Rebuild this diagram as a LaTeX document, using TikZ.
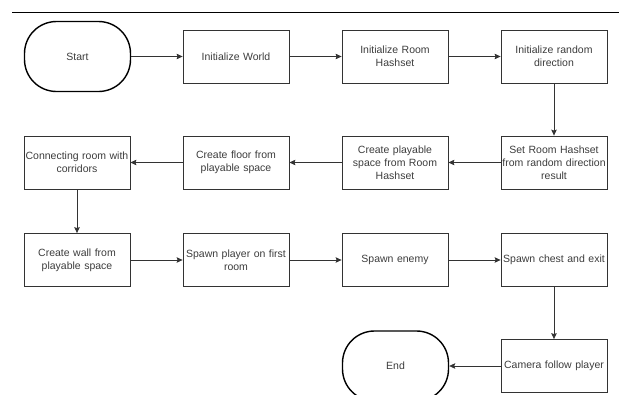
\documentclass[tikz,border=0pt]{standalone}
\usepackage{fontspec}
\setmainfont{Liberation Sans}
\usepackage{tikz}
\usetikzlibrary{positioning, arrows, arrows.meta}
\definecolor{linegray}{HTML}{333333}
\definecolor{textgray}{HTML}{3C3C3C}

\begin{document}
\begin{tikzpicture}[x=1pt, y=-1pt,
        >={Stealth[length=6pt, width=5.5pt, inset=1pt]},
        every node/.style={font=\fontsize{10.5}{13}\selectfont, text=textgray, align=center},
        stepbox/.style={draw=linegray, line width=0.8pt, minimum width=106pt, minimum height=53pt, inner sep=0pt, text width=104pt},
        terminal/.style={draw=black, line width=1.4pt, rounded corners=32pt, minimum width=106pt, minimum height=70pt, inner sep=0pt}]
            \useasboundingbox (0, 0) rectangle (619, 394);
            \draw [line width=0.9pt] (12, 12) -- (619, 12);

            \node [terminal] (Start) at (77.5, 56.5) {Start};
            \node [stepbox] (World) at (236, 56.5) {Initialize World};
            \node [stepbox] (Hashset) at (395, 56.5) {Initialize Room\\Hashset};
            \node [stepbox] (Dir) at (554, 56.5) {Initialize random\\direction};

            \node [stepbox] (SetHash) at (554, 162.5) {Set Room Hashset\\from random direction\\result};
            \node [stepbox] (Space) at (395, 162.5) {Create playable\\space from Room\\Hashset};
            \node [stepbox] (Floor) at (236, 162.5) {Create floor from\\playable space};
            \node [stepbox] (Corr) at (77, 162.5) {Connecting room with\\corridors};

            \node [stepbox] (Wall) at (77, 260) {Create wall from\\playable space};
            \node [stepbox] (Player) at (236, 260) {Spawn player on first\\room};
            \node [stepbox] (Enemy) at (395, 260) {Spawn enemy};
            \node [stepbox] (Chest) at (554, 260) {Spawn chest and exit};

            \node [stepbox] (Cam) at (554, 366) {Camera follow player};
            \node [terminal] (End) at (395.5, 366) {End};

            \draw [->, linegray, line width=0.8pt] (Start) -- (World);
            \draw [->, linegray, line width=0.8pt] (World) -- (Hashset);
            \draw [->, linegray, line width=0.8pt] (Hashset) -- (Dir);
            \draw [->, linegray, line width=0.8pt] (Dir) -- (SetHash);
            \draw [->, linegray, line width=0.8pt] (SetHash) -- (Space);
            \draw [->, linegray, line width=0.8pt] (Space) -- (Floor);
            \draw [->, linegray, line width=0.8pt] (Floor) -- (Corr);
            \draw [->, linegray, line width=0.8pt] (Corr) -- (Wall);
            \draw [->, linegray, line width=0.8pt] (Wall) -- (Player);
            \draw [->, linegray, line width=0.8pt] (Player) -- (Enemy);
            \draw [->, linegray, line width=0.8pt] (Enemy) -- (Chest);
            \draw [->, linegray, line width=0.8pt] (Chest) -- (Cam);
            \draw [->, linegray, line width=0.8pt] (Cam) -- (End);
        \end{tikzpicture}
\end{document}
